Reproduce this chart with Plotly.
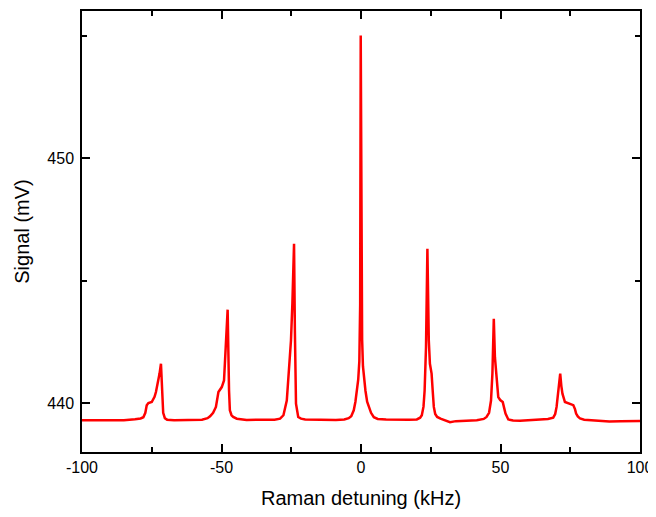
import plotly.graph_objects as go

detuning_khz = [-100, -95, -90, -85, -81, -79, -78, -77.3, -76.8, -76.2, -75.0, -74.0, -73.5, -72.8, -72.2, -71.7,
                -71.3, -70.9, -70.3, -69.5, -67, -63, -60, -57, -55, -54.1, -53.0, -52.0, -51.1, -49.9, -49.1,
                -48.4, -47.8, -47.3, -47.0, -46.4, -45.8, -44.5, -41, -37, -34, -31, -29, -27.8, -26.6, -25.8,
                -25.1, -24.6, -24.0, -23.7, -23.3, -22.5, -21.5, -20.0, -17, -13, -9, -6, -4.4, -3.5, -2.6,
                -2.0, -1.5, -1.0, -0.6, -0.3, -0.1, 0.1, 0.4, 0.7, 1.1, 1.6, 2.2, 2.8, 3.6, 4.6, 6, 9, 13, 17,
                20, 21.2, 21.8, 22.4, 22.8, 23.3, 23.8, 24.3, 24.7, 25.3, 25.7, 26.1, 26.6, 27.3, 28.5, 30.7,
                31.9, 34, 38, 41.5, 44, 45.0, 45.9, 46.6, 47.1, 47.6, 48.0, 48.6, 49.2, 49.9, 50.8, 51.3, 51.8,
                52.8, 54.5, 57, 61, 64.2, 67, 68.9, 69.6, 70.1, 70.8, 71.4, 71.8, 72.2, 73.1, 74.0, 74.9, 76.1,
                76.7, 77.1, 77.7, 78.5, 80, 82.1, 86, 89, 93, 97, 100]

signal_mv = [439.30, 439.29, 439.31, 439.30, 439.34, 439.37, 439.42, 439.60, 439.91, 440.00, 440.04, 440.25,
             440.45, 440.80, 441.20, 441.60, 440.60, 439.60, 439.38, 439.32, 439.30, 439.31, 439.30, 439.32,
             439.38, 439.46, 439.60, 439.84, 440.45, 440.65, 440.92, 442.28, 443.81, 440.52, 439.70, 439.50,
             439.43, 439.36, 439.31, 439.32, 439.31, 439.32, 439.36, 439.50, 440.10, 441.60, 442.55, 444.05,
             446.50, 442.96, 439.97, 439.43, 439.36, 439.33, 439.32, 439.33, 439.31, 439.33, 439.38, 439.46,
             439.70, 440.05, 440.45, 440.95, 441.70, 444.00, 455.00, 448.50, 442.60, 441.50, 440.95, 440.50,
             440.05, 439.85, 439.60, 439.42, 439.35, 439.33, 439.31, 439.32, 439.33, 439.40, 439.50, 439.85,
             440.50, 442.28, 446.29, 442.55, 441.60, 441.20, 440.50, 439.84, 439.55, 439.43, 439.36, 439.26,
             439.22, 439.26, 439.28, 439.30, 439.35, 439.43, 439.60, 440.10, 441.20, 443.44, 441.87, 440.92,
             440.24, 440.12, 440.04, 439.80, 439.57, 439.33, 439.29, 439.28, 439.30, 439.33, 439.35, 439.40,
             439.55, 439.84, 440.52, 441.20, 440.70, 440.38, 440.04, 440.00, 439.97, 439.91, 439.75, 439.57,
             439.45, 439.37, 439.32, 439.30, 439.27, 439.24, 439.26, 439.27, 439.27]

x_tickvals = [-100, -50, 0, 50, 100]
x_ticktext = ["-100", "-50", "0", "50", "100"]
y_tickvals = [440, 450]
y_ticktext = ["440", "450"]

FONT = "Arial, Liberation Sans, sans-serif"

fig = go.Figure()
fig.add_trace(go.Scatter(x=detuning_khz, y=signal_mv, mode="lines",
                         line=dict(color="#ff0000", width=2.5), showlegend=False))

axis_common = dict(
    showgrid=False, zeroline=False, showline=True, linecolor="black", linewidth=1.5,
    mirror="allticks", ticks="inside", ticklen=8, tickwidth=1.5, tickcolor="black",
    tickfont=dict(family=FONT, size=16, color="black"), automargin=False,
)

# The page body has an 8 px default margin, so the figure is made 8 px smaller
# and the left/top margins are reduced to put the plot area where the reference has it.
fig.update_layout(
    width=648, height=509,
    margin=dict(l=74, r=16, t=3, b=65),
    plot_bgcolor="white", paper_bgcolor="white",
    xaxis=dict(range=[-100, 100], tickvals=x_tickvals, ticktext=x_ticktext, ticklabelstandoff=0,
               minor=dict(ticks="inside", ticklen=5, tickwidth=1.5, tickcolor="black", dtick=25, tick0=0),
               title=dict(text="Raman detuning (kHz)", font=dict(family=FONT, size=20, color="black"), standoff=16),
               **axis_common),
    yaxis=dict(range=[438, 456], tickvals=y_tickvals, ticktext=y_ticktext, ticklabelstandoff=3,
               minor=dict(ticks="inside", ticklen=5, tickwidth=1.5, tickcolor="black", dtick=5, tick0=440),
               title=dict(text="Signal (mV)", font=dict(family=FONT, size=20, color="black"), standoff=12),
               **axis_common),
)

fig.write_html("out.html")
